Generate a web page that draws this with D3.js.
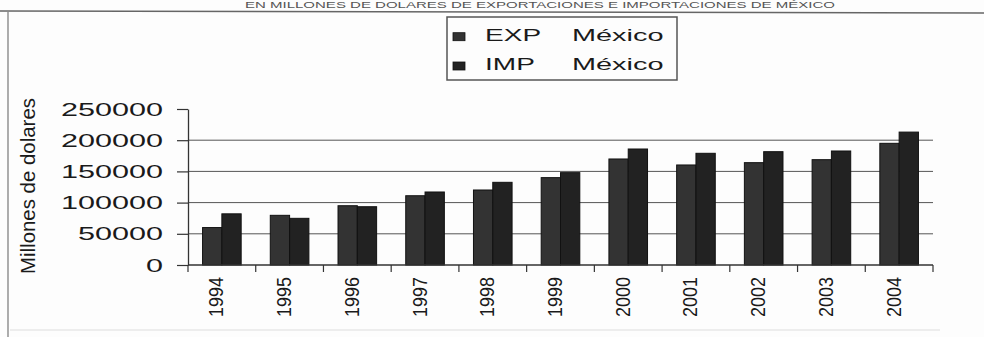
<!DOCTYPE html>
<html>
<head>
<meta charset="utf-8">
<script src="https://cdn.jsdelivr.net/npm/d3@7"></script>
<style>
  body { margin: 0; background: #fdfdfd; }
  svg { display: block; font-family: Arial, "Liberation Sans", sans-serif; }
</style>
</head>
<body>
<div id="chart"></div>
<script>
const years = ['1994', '1995', '1996', '1997', '1998', '1999', '2000', '2001', '2002', '2003', '2004'];
const expMexico = [60000, 79600, 95000, 111000, 120200, 140000, 169900, 160300, 164000, 168800, 195000];
const impMexico = [82000, 74800, 93400, 117000, 132500, 148000, 185900, 179000, 181600, 182700, 213000];
const seriesNames = ['EXP México', 'IMP México'];
const seriesColors = ['#333333', '#222222'];
const yTicks = [0, 50000, 100000, 150000, 200000, 250000];
const yTitle = 'Millones de dolares';
const topTitle = 'EN MILLONES DE DOLARES DE EXPORTACIONES E IMPORTACIONES DE MÉXICO';

const width = 984, height = 337;
const plot = { left: 188, right: 933, top: 109, bottom: 265 };

const svg = d3.select('#chart')
    .append('svg')
    .attr('width', width)
    .attr('height', height)
    .style('background', '#fdfdfd');

// title of the scanned page and its frame
svg.append('text')
    .attr('x', 245).attr('y', 8)
    .attr('font-size', 9)
    .attr('textLength', 590)
    .attr('lengthAdjust', 'spacingAndGlyphs')
    .attr('fill', '#555')
    .text(topTitle);

svg.append('line').attr('x1', 0).attr('y1', 11).attr('x2', width).attr('y2', 13)
    .attr('stroke', '#666').attr('stroke-width', 1.5);
svg.append('line').attr('x1', 8).attr('y1', 12).attr('x2', 8).attr('y2', height)
    .attr('stroke', '#777').attr('stroke-width', 1.2);
svg.append('line').attr('x1', 10).attr('y1', 330).attr('x2', 940).attr('y2', 330)
    .attr('stroke', '#ddd').attr('stroke-width', 1);

const x = d3.scaleBand()
    .domain(years)
    .range([plot.left, plot.right])
    .paddingInner(0.43)
    .paddingOuter(0.215);

const xSub = d3.scaleBand()
    .domain([0, 1])
    .range([0, x.bandwidth()]);

const y = d3.scaleLinear()
    .domain([0, 250000])
    .range([plot.bottom, plot.top]);

// gridlines (none on the top value)
svg.append('g')
    .selectAll('line')
    .data(yTicks.filter(t => t > 0 && t < 250000))
    .join('line')
    .attr('x1', plot.left).attr('x2', plot.right)
    .attr('y1', d => y(d)).attr('y2', d => y(d))
    .attr('stroke', '#555').attr('stroke-width', 1);

// bars
const table = years.map((yr, i) => ({ year: yr, values: [expMexico[i], impMexico[i]] }));

svg.append('g')
    .selectAll('g')
    .data(table)
    .join('g')
    .attr('transform', d => `translate(${x(d.year)},0)`)
    .selectAll('rect')
    .data(d => d.values.map((v, k) => ({ k, v })))
    .join('rect')
    .attr('x', d => xSub(d.k))
    .attr('width', xSub.bandwidth())
    .attr('y', d => y(d.v))
    .attr('height', d => y(0) - y(d.v))
    .attr('fill', d => seriesColors[d.k])
    .attr('stroke', '#111')
    .attr('stroke-width', 1);

// y axis
const yAxis = svg.append('g')
    .attr('transform', `translate(${plot.left},0)`)
    .call(d3.axisLeft(y).tickValues(yTicks).tickSize(11).tickSizeOuter(0).tickFormat(d3.format('d')));
yAxis.select('.domain').attr('stroke', '#333').attr('stroke-width', 1.3);
yAxis.selectAll('.tick line').attr('stroke', '#333').attr('stroke-width', 1.2);
yAxis.selectAll('.tick text').remove();

svg.append('g')
    .selectAll('text')
    .data(yTicks)
    .join('text')
    .attr('transform', d => `translate(163,${y(d) + 6.5}) scale(1.7,1)`)
    .attr('text-anchor', 'end')
    .attr('font-size', 18)
    .attr('fill', '#1a1a1a')
    .text(d => d3.format('d')(d));

// x axis with ticks between categories
svg.append('line')
    .attr('x1', plot.left).attr('x2', plot.right)
    .attr('y1', plot.bottom).attr('y2', plot.bottom)
    .attr('stroke', '#333').attr('stroke-width', 1.3);

const bounds = years.map(yr => x(yr) - x.step() * x.paddingInner() / 2).concat([plot.right]);
svg.append('g')
    .selectAll('line')
    .data(bounds)
    .join('line')
    .attr('x1', d => d).attr('x2', d => d)
    .attr('y1', plot.bottom).attr('y2', plot.bottom + 7)
    .attr('stroke', '#333').attr('stroke-width', 1.2);

svg.append('g')
    .selectAll('text')
    .data(years)
    .join('text')
    .attr('transform', d => `translate(${x(d) + x.bandwidth() / 2 + 1.5},277) rotate(-90) scale(1,1.12)`)
    .attr('text-anchor', 'end')
    .attr('font-size', 18)
    .attr('fill', '#1a1a1a')
    .text(d => d);

// y axis title
svg.append('text')
    .attr('transform', 'translate(35,186) rotate(-90)')
    .attr('text-anchor', 'middle')
    .attr('font-size', 21)
    .attr('textLength', 176)
    .attr('lengthAdjust', 'spacingAndGlyphs')
    .attr('fill', '#1a1a1a')
    .text(yTitle);

// legend
const legend = svg.append('g');
legend.append('rect')
    .attr('x', 447).attr('y', 17)
    .attr('width', 230).attr('height', 63)
    .attr('fill', '#fdfdfd')
    .attr('stroke', '#555').attr('stroke-width', 1.5);

const rows = legend.selectAll('g')
    .data(seriesNames)
    .join('g')
    .attr('transform', (d, i) => `translate(0,${i === 0 ? 40.7 : 70})`);

rows.append('rect')
    .attr('x', 453).attr('y', -8)
    .attr('width', 12).attr('height', 8)
    .attr('fill', (d, i) => seriesColors[i])
    .attr('stroke', '#111').attr('stroke-width', 0.8);

rows.append('text')
    .attr('transform', 'translate(485,0) scale(1.65,1)')
    .attr('font-size', 17)
    .attr('fill', '#1a1a1a')
    .text(d => d.split(' ')[0]);

rows.append('text')
    .attr('transform', 'translate(572,0) scale(1.7,1)')
    .attr('font-size', 17)
    .attr('fill', '#1a1a1a')
    .text(d => d.split(' ')[1]);
</script>
</body>
</html>
